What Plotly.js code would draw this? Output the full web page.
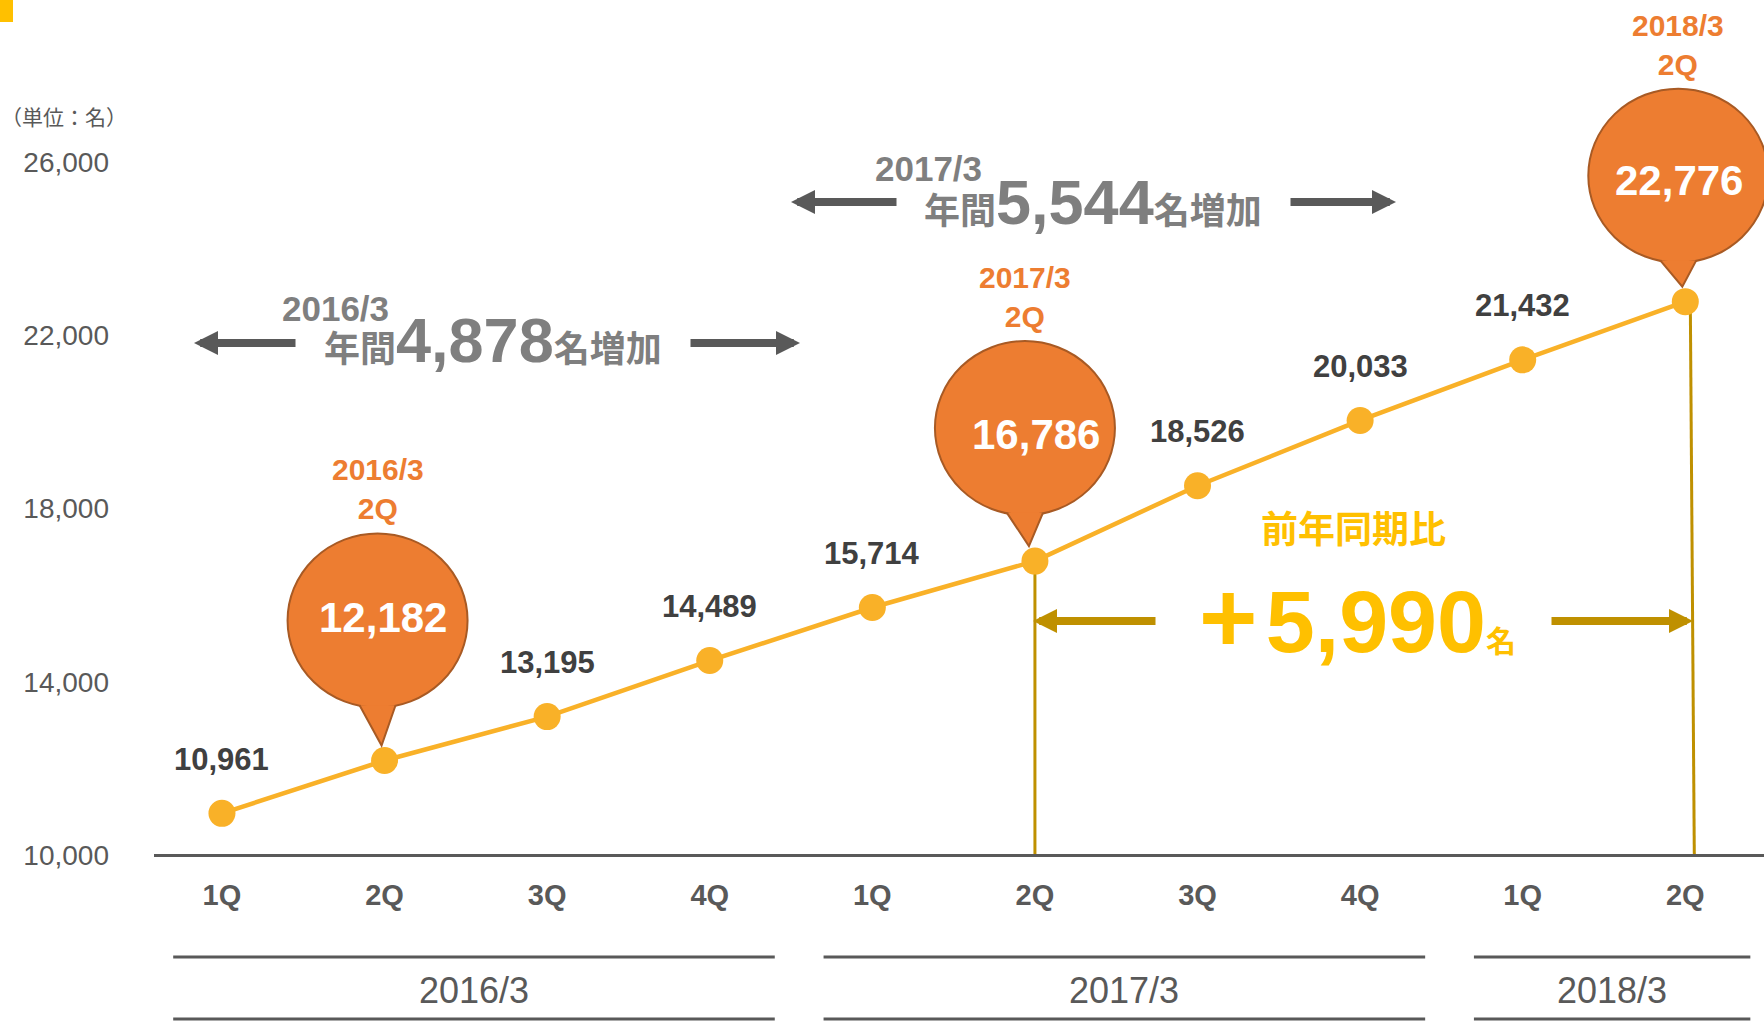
<!DOCTYPE html>
<html>
<head>
<meta charset="utf-8">
<script src="https://cdn.plot.ly/plotly-3.0.1.min.js"></script>
<style>html,body{margin:0;padding:0;background:#fff;}#chart{width:1764px;height:1021px;}</style>
</head>
<body>
<div id="chart"></div>
<script>
// ---- data ----
const quarters = ['1Q','2Q','3Q','4Q','1Q','2Q','3Q','4Q','1Q','2Q'];
const fiscalYears = ['2016/3','2016/3','2016/3','2016/3','2017/3','2017/3','2017/3','2017/3','2018/3','2018/3'];
const members = [10961, 12182, 13195, 14489, 15714, 16786, 18526, 20033, 21432, 22776];
const yTicks = [10000, 14000, 18000, 22000, 26000];
const annualYears = ['2016/3', '2017/3'];
const annualIncrease = [4878, 5544];
const yoyIncrease = 5990;
const unitLabel = '（単位：名）';

// ---- layout helpers ----
const W = 1764, H = 1021, L = 154;
const xr = [-0.418, 9.484], yr = [6167, 29741];
const pxX = p => xr[0] + (p - L) / (W - L) * (xr[1] - xr[0]);
const pxY = p => yr[0] + (H - p) / H * (yr[1] - yr[0]);
const fmt = v => v.toLocaleString('en-US');
const FONT = 'Liberation Sans, Arial, Noto Sans CJK JP, sans-serif';
const GRAY = '#595959', DARK = '#404040', LGRAY = '#7F7F7F';
const ORANGE = '#ED7D31', BORDER = '#A85A24', LINEC = '#F9B128';
const GOLD = '#FFC000', DGOLD = '#BF9000';

const xs = members.map((_, i) => i);

const trace = {
  x: xs, y: members, type: 'scatter', mode: 'lines+markers',
  line: {color: LINEC, width: 4.5},
  marker: {color: LINEC, size: 27},
  hoverinfo: 'skip', showlegend: false, cliponaxis: false
};

const shapes = [];
const annotations = [];

// yellow corner mark
shapes.push({type: 'rect', xref: 'paper', yref: 'paper',
  x0: -L / (W - L), x1: (13 - L) / (W - L), y0: 1 - 22 / H, y1: 1,
  fillcolor: GOLD, line: {width: 0}});
annotations.push({xref: 'paper', yref: 'paper', x: (-1 - L) / (W - L), y: 1 - 117 / H,
  xanchor: 'left', yanchor: 'middle', showarrow: false, text: unitLabel,
  font: {family: FONT, size: 21, color: GRAY}});

// data labels for non-highlighted points; balloons for highlighted ones
// bubble geometry: [circle dx, circle dy, text dx, text dy] in pixels relative to the point
const bubbleGeom = [[-7, 140, -2, 143], [-10, 133, 1, 127], [-7, 126, -6, 121]];
let b = 0;
members.forEach((v, i) => {
  if (quarters[i] !== '2Q') {
    annotations.push({x: i, y: v, xref: 'x', yref: 'y', yshift: 54, showarrow: false,
      text: fmt(v), font: {family: FONT, size: 31, color: DARK, weight: 'bold'}});
  } else {
    const [dx, dy, tx, ty] = bubbleGeom[b++];
    const rx = 90, ry = 87;
    shapes.push({type: 'circle', layer: 'above', xref: 'x', yref: 'y',
      xsizemode: 'pixel', ysizemode: 'pixel', xanchor: i, yanchor: v,
      x0: dx - rx, x1: dx + rx, y0: dy - ry, y1: dy + ry,
      fillcolor: ORANGE, line: {color: BORDER, width: 2}});
    const base = dy - ry * Math.sqrt(1 - (18 / rx) * (18 / rx)) + 0.5;
    const tipX = dx + 4;
    shapes.push({type: 'path', layer: 'above', xref: 'x', yref: 'y',
      xsizemode: 'pixel', ysizemode: 'pixel', xanchor: i, yanchor: v,
      path: `M${dx - 18},${base} L${tipX},15 L${dx + 18},${base}`,
      fillcolor: ORANGE, line: {color: BORDER, width: 2}});
    annotations.push({x: i, y: v, xref: 'x', yref: 'y', xshift: tx, yshift: ty,
      showarrow: false, text: fmt(v),
      font: {family: FONT, size: 42, color: '#FFFFFF', weight: 'bold'}});
    annotations.push({x: i, y: v, xref: 'x', yref: 'y', xshift: dx, yshift: dy + 131,
      showarrow: false, text: fiscalYears[i] + '<br>' + quarters[i],
      font: {family: FONT, size: 30, color: ORANGE, weight: 'bold'}});
  }
});

// vertical year-over-year lines
const idxA = 5, idxB = 9;
shapes.push({type: 'line', layer: 'below', xref: 'x', yref: 'y',
  x0: idxA, x1: idxA, y0: members[idxA], y1: yTicks[0], line: {color: DGOLD, width: 3}});
shapes.push({type: 'line', layer: 'below', xref: 'x', yref: 'y',
  xsizemode: 'pixel', xanchor: idxB, x0: 5, x1: 9, y0: members[idxB], y1: yTicks[0],
  line: {color: DGOLD, width: 3}});

// arrows helper
function arrow(tailPx, tipPx, yPx, color) {
  annotations.push({xref: 'x', yref: 'y', axref: 'x', ayref: 'y',
    x: pxX(tipPx), y: pxY(yPx), ax: pxX(tailPx), ay: pxY(yPx),
    text: '', showarrow: true, arrowhead: 2, arrowsize: 0.6, arrowwidth: 8,
    arrowcolor: color, standoff: 0, startstandoff: 0});
}

// annual increase blocks
const blocks = [
  {yearX: 335, yearY: 308, mainX: 493, mainY: 340, arrows: [[297, 194], [689, 800]], arrowY: 343},
  {yearX: 928, yearY: 168, mainX: 1093, mainY: 202, arrows: [[898, 791], [1289, 1396]], arrowY: 202}
];
blocks.forEach((bk, k) => {
  annotations.push({xref: 'x', yref: 'y', x: pxX(bk.yearX), y: pxY(bk.yearY), showarrow: false,
    text: annualYears[k], font: {family: FONT, size: 35, color: LGRAY, weight: 'bold'}});
  annotations.push({xref: 'x', yref: 'y', x: pxX(bk.mainX), y: pxY(bk.mainY), showarrow: false,
    text: '年間<span style="font-size:63px">' + fmt(annualIncrease[k]) + '</span>名増加',
    font: {family: FONT, size: 36, color: LGRAY, weight: 'bold'}});
  bk.arrows.forEach(a => arrow(a[0], a[1], bk.arrowY, GRAY));
});

// year-over-year block
annotations.push({xref: 'x', yref: 'y', x: pxX(1353), y: pxY(530), showarrow: false,
  text: '前年同期比', font: {family: FONT, size: 37, color: GOLD, weight: 'bold'}});
annotations.push({xref: 'x', yref: 'y', x: pxX(1357), y: pxY(617), showarrow: false,
  text: '<span style="font-size:100px">+</span><span style="font-size:30px"> </span>' +
        fmt(yoyIncrease) + '<span style="font-size:30px">名</span>',
  font: {family: FONT, size: 88, color: GOLD, weight: 'bold'}});
arrow(1157, 1033, 621, DGOLD);
arrow(1550, 1693, 621, DGOLD);

// fiscal-year group lines and labels
const groups = [];
fiscalYears.forEach((fy, i) => {
  const g = groups.find(x => x.name === fy);
  if (g) g.end = i; else groups.push({name: fy, start: i, end: i});
});
groups.forEach(g => {
  const x0 = g.start - 0.3, x1 = g.end + 0.4;
  [957, 1019].forEach(py => shapes.push({type: 'line', xref: 'x', yref: 'y',
    x0: x0, x1: x1, y0: pxY(py), y1: pxY(py), line: {color: GRAY, width: 3}}));
  annotations.push({xref: 'x', yref: 'y', x: (x0 + x1) / 2, y: pxY(990), showarrow: false,
    text: g.name, font: {family: FONT, size: 36, color: GRAY}});
});

const layout = {
  width: W, height: H, margin: {l: L, r: 0, t: 0, b: 0, pad: 0},
  paper_bgcolor: '#fff', plot_bgcolor: '#fff', showlegend: false, hovermode: false,
  xaxis: {range: xr, anchor: 'free', position: (H - 855) / H, showgrid: false, zeroline: false,
    showline: true, linecolor: GRAY, linewidth: 3, ticks: '',
    tickvals: xs, ticktext: quarters, ticklabelstandoff: 13,
    tickfont: {family: FONT, size: 29, color: GRAY, weight: 'bold'}},
  yaxis: {range: yr, showgrid: false, zeroline: false, showline: false, ticks: '',
    tickvals: yTicks, ticktext: yTicks.map(fmt), ticklabelstandoff: 44,
    tickfont: {family: FONT, size: 28, color: GRAY}},
  shapes: shapes, annotations: annotations,
  font: {family: FONT}
};

Plotly.newPlot('chart', [trace], layout, {displayModeBar: false, staticPlot: true});
</script>
</body>
</html>
